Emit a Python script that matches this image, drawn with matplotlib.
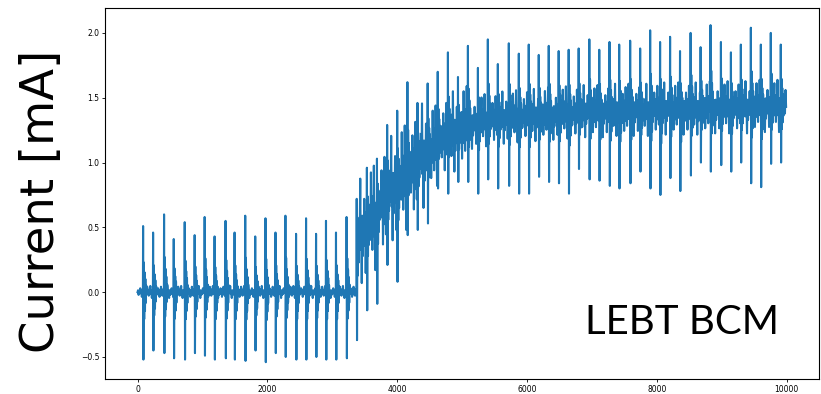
import numpy as np
import matplotlib.pyplot as plt

# spike positions (sample index)
spike_t = [86, 240, 409, 558, 727, 880, 1034, 1187, 1356, 1495, 1659, 1813, 1971, 2125,
           2278, 2442, 2596, 2750, 2903, 3057, 3220,
           3376, 3533, 3688, 3845, 4000, 4157, 4312, 4469, 4624, 4781, 4936,
           5089, 5243, 5396, 5550, 5719, 5873, 6026, 6180, 6334, 6487, 6641,
           6795, 6959, 7112, 7270, 7419, 7588, 7742, 7896, 8049, 8203, 8356,
           8519, 8673, 8826, 8986, 9140, 9293, 9447, 9601, 9754, 9908]

# top of each spike [mA]
spike_hi = [0.51, 0.46, 0.60, 0.41, 0.54, 0.44, 0.58, 0.43, 0.55, 0.46, 0.59, 0.43, 0.57, 0.46,
            0.59, 0.45, 0.57, 0.45, 0.55, 0.46, 0.58,
            0.72, 0.96, 1.03, 1.29, 1.40, 1.62, 1.46, 1.61, 1.70, 1.85, 1.66,
            1.90, 1.73, 1.95, 1.76, 1.92, 1.84, 1.91, 1.83, 1.90, 1.86, 1.87,
            1.88, 1.95, 1.87, 1.93, 1.91, 1.94, 1.88, 2.02, 1.93, 1.97, 1.86,
            2.00, 1.89, 2.06, 1.93, 1.85, 1.91, 2.04, 1.91, 2.00, 1.91]

# bottom of each spike [mA]
spike_lo = [-0.52, -0.45, -0.47, -0.51, -0.52, -0.47, -0.49, -0.52, -0.51, -0.52, -0.53, -0.45, -0.54, -0.47,
            -0.50, -0.52, -0.52, -0.50, -0.52, -0.52, -0.51,
            -0.37, -0.14, -0.09, 0.21, 0.08, 0.44, 0.48, 0.53, 0.80, 0.76, 0.85,
            0.85, 0.76, 0.87, 0.80, 0.82, 0.76, 0.76, 0.89, 0.85, 0.84, 0.76,
            0.95, 0.87, 0.86, 0.82, 0.80, 0.84, 0.93, 0.80, 0.75, 0.88, 0.78,
            0.90, 1.00, 0.93, 0.98, 0.93, 1.00, 0.84, 0.81, 0.99, 1.00]

# beam current level after each spike [mA]
base = [0.0] * 21 + [
    0.46, 0.56, 0.68, 0.79, 0.87, 0.95, 1.04, 1.12, 1.18, 1.23, 1.27,
    1.30, 1.32, 1.33, 1.34, 1.35, 1.36, 1.36, 1.37, 1.37, 1.38, 1.38,
    1.39, 1.39, 1.39, 1.40, 1.40, 1.40, 1.40, 1.41, 1.41, 1.41, 1.41,
    1.41, 1.42, 1.42, 1.42, 1.42, 1.42, 1.43, 1.43, 1.43, 1.43]

# half width of the noise band after each spike [mA]
band = [0.03] * 21 + [0.26] * 7 + [0.2] * 4 + [0.13] * 32

# ringing after a spike, as fraction of the spike swing
ring = [0.45, -0.4, 0.3, -0.28, 0.2, -0.16, 0.1]
# noise shape between spikes, as fraction of the band width
noise = [0.5, -0.7, 0.2, -0.4, 1.0, -0.1, 0.6, -1.2, 0.3, -0.6,
         1.4, -0.3, 0.4, -0.9, 0.7, -0.2, 1.6, -0.5, 0.1, -1.5]

t_end = 9990

xs = [0.0]
ys = [0.0]
k = 0


def add_noise(t0, t1, level, width):
    global k
    n = max(int((t1 - t0) / 7), 2)
    for x in np.linspace(t0, t1, n)[1:-1]:
        xs.append(x)
        ys.append(level + width * noise[k % len(noise)])
        k += 1


prev_base, prev_band = 0.0, 0.03
for i in range(len(spike_t)):
    t, hi, lo, b = spike_t[i], spike_hi[i], spike_lo[i], base[i]
    add_noise(xs[-1], t - 3, prev_base, prev_band)
    xs += [t - 3, t, t + 5]
    ys += [prev_base, hi, lo]
    for j, r in enumerate(ring):
        xs.append(t + 11 + 6 * j)
        ys.append(b + r * (hi - b) if r > 0 else b + r * (b - lo))
    prev_base, prev_band = b, band[i]
add_noise(xs[-1], t_end, prev_base, prev_band)
xs.append(t_end)
ys.append(prev_base)

fig = plt.figure(figsize=(8.21, 3.94), dpi=100)
ax = fig.add_axes([0.128, 0.038, 0.869, 0.941])
ax.plot(xs, ys, color='#1f77b4', lw=1.5)

ax.tick_params(labelsize=5.5, length=2.5, width=0.6, pad=1.5)
ax.set_ylabel('Current [mA]', fontsize=33.5, family='DejaVu Sans')
ax.yaxis.set_label_coords(-0.058, 0.478)
ax.text(0.945, 0.122, 'LEBT BCM', transform=ax.transAxes, ha='right', va='baseline',
        fontsize=29, family='Lato')

fig.savefig('out.png', dpi=100)
